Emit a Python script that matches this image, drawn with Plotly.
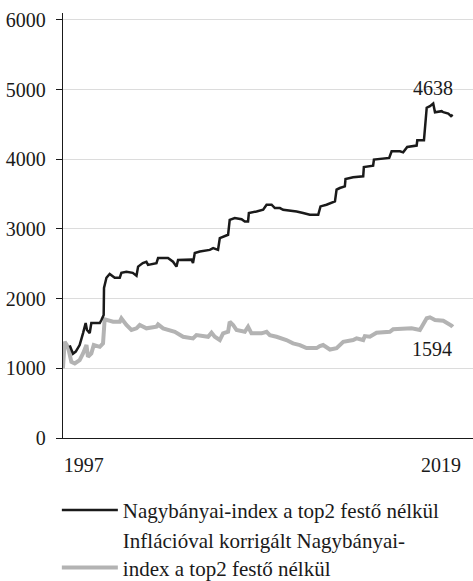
import plotly.graph_objects as go

# Nominal index (black) – fractional years and index values
nominal_years = [1996.14, 1996.34, 1996.51, 1996.75, 1996.96, 1997.12, 1997.20, 1997.37, 1997.47, 1997.99,
                 1998.09, 1998.23, 1998.25, 1998.40, 1998.60, 1998.91, 1999.22, 1999.32, 1999.63, 2000.02,
                 2000.25, 2000.35, 2000.64, 2000.86, 2000.96, 2001.48, 2001.58, 2002.19, 2002.50, 2002.71,
                 2002.81, 2003.64, 2003.73, 2003.84, 2004.15, 2004.76, 2004.97, 2005.27, 2005.38, 2005.69,
                 2005.89, 2005.99, 2006.30, 2006.72, 2006.92, 2007.12, 2007.17, 2007.64, 2008.05, 2008.26,
                 2008.57, 2008.77, 2009.08, 2009.28, 2009.69, 2010.11, 2010.51, 2010.92, 2011.44, 2011.58,
                 2011.95, 2012.16, 2012.47, 2012.57, 2012.77, 2013.08, 2013.12, 2013.59, 2014.21, 2014.25,
                 2014.82, 2014.87, 2015.34, 2015.81, 2015.96, 2016.47, 2016.67, 2016.92, 2017.50, 2017.54,
                 2017.95, 2018.12, 2018.32, 2018.52, 2018.63, 2019.04, 2019.14, 2019.45, 2019.62, 2019.72]
nominal_values = [1330, 1210, 1240, 1334, 1506, 1650, 1550, 1506, 1650, 1650,
                  1693, 1765, 2155, 2300, 2355, 2300, 2300, 2370, 2385, 2370,
                  2328, 2460, 2510, 2530, 2485, 2510, 2585, 2585, 2530, 2460,
                  2555, 2560, 2510, 2655, 2676, 2700, 2725, 2700, 2870, 2892,
                  2917, 3130, 3157, 3140, 3108, 3108, 3229, 3252, 3276, 3348,
                  3348, 3300, 3300, 3276, 3266, 3252, 3229, 3204, 3204, 3324,
                  3348, 3372, 3396, 3564, 3588, 3612, 3718, 3741, 3756, 3890,
                  3909, 3996, 4005, 4020, 4115, 4115, 4100, 4178, 4197, 4273,
                  4273, 4740, 4763, 4801, 4676, 4691, 4676, 4657, 4620, 4638]

# Inflation-adjusted index (grey)
real_years = [1995.72, 1995.83, 1996.03, 1996.24, 1996.45, 1996.75, 1996.96, 1997.17, 1997.26, 1997.47,
              1997.62, 1997.99, 1998.19, 1998.29, 1998.81, 1999.22, 1999.32, 1999.63, 1999.94, 2000.25,
              2000.45, 2000.86, 2001.48, 2001.58, 2001.89, 2002.30, 2002.61, 2003.12, 2003.73, 2003.94,
              2004.66, 2004.87, 2005.07, 2005.38, 2005.58, 2005.89, 2005.99, 2006.20, 2006.41, 2006.92,
              2007.12, 2007.33, 2007.95, 2008.26, 2008.46, 2008.87, 2009.28, 2009.48, 2009.89, 2010.31,
              2010.72, 2011.34, 2011.54, 2011.74, 2012.16, 2012.57, 2012.98, 2013.59, 2013.80, 2014.21,
              2014.31, 2014.62, 2015.03, 2015.85, 2016.05, 2016.88, 2017.19, 2017.70, 2018.12, 2018.32,
              2018.63, 2019.14, 2019.45, 2019.66, 2019.72]
real_values = [998, 1381, 1309, 1093, 1070, 1118, 1214, 1334, 1165, 1214,
               1334, 1309, 1358, 1704, 1669, 1669, 1718, 1622, 1550, 1574,
               1622, 1574, 1597, 1631, 1574, 1550, 1525, 1453, 1430, 1477,
               1453, 1511, 1453, 1406, 1502, 1525, 1669, 1622, 1550, 1525,
               1597, 1502, 1502, 1525, 1477, 1453, 1430, 1406, 1358, 1334,
               1290, 1290, 1319, 1334, 1270, 1290, 1381, 1406, 1430, 1406,
               1463, 1453, 1511, 1525, 1560, 1560, 1574, 1550, 1718, 1732,
               1694, 1684, 1646, 1610, 1594]

x_tick_vals = [1997, 2019]
x_tick_text = ["1997", "2019"]
y_tick_vals = [0, 1000, 2000, 3000, 4000, 5000, 6000]

name_nominal = "Nagybányai-index a top2 festő nélkül"
name_real = "Inflációval korrigált Nagybányai-<br>index a top2 festő nélkül"

FONT = "Liberation Serif, Times New Roman, serif"
BLACK = "#1a1a1a"
GREY = "#b3b3b3"

fig = go.Figure()
fig.add_trace(go.Scatter(x=real_years, y=real_values, mode="lines", name=name_real,
                         line=dict(color=GREY, width=4), legendrank=2))
fig.add_trace(go.Scatter(x=nominal_years, y=nominal_values, mode="lines", name=name_nominal,
                         line=dict(color=BLACK, width=2.5), legendrank=1))

fig.add_annotation(x=nominal_years[-1] - 1.2, y=5030, text=str(nominal_values[-1]), showarrow=False,
                   font=dict(family=FONT, size=20, color=BLACK))
fig.add_annotation(x=real_years[-1] - 1.28, y=1276, text=str(real_values[-1]), showarrow=False,
                   font=dict(family=FONT, size=20, color=BLACK))

fig.update_layout(
    width=473, height=581,
    margin=dict(l=63, r=0, t=13, b=143, autoexpand=False),
    paper_bgcolor="white", plot_bgcolor="white",
    font=dict(family=FONT, size=20, color=BLACK),
    showlegend=True,
    legend=dict(x=-0.015, xanchor="left", y=-0.122, yanchor="top", orientation="v",
                font=dict(family=FONT, size=21, color=BLACK), itemwidth=56,
                valign="bottom", bgcolor="rgba(0,0,0,0)", tracegroupgap=0),
)
fig.update_xaxes(range=[1995.725, 2020.97], tickvals=x_tick_vals, ticktext=x_tick_text,
                 showgrid=False, zeroline=False, showline=True, linecolor=BLACK, linewidth=1.3,
                 ticks="", ticklabelstandoff=9, tickfont=dict(family=FONT, size=20, color=BLACK))
fig.update_yaxes(range=[0, 6100], tickvals=y_tick_vals, showgrid=True, gridcolor="#dcdcdc", gridwidth=1,
                 zeroline=False, showline=True, linecolor=BLACK, linewidth=1.3,
                 ticks="outside", ticklen=6, tickcolor=BLACK, tickwidth=1.3, ticklabelstandoff=6,
                 tickfont=dict(family=FONT, size=20, color=BLACK))

fig.write_html("out.html", config={"displayModeBar": False},
               post_script="document.body.style.margin='0';")
